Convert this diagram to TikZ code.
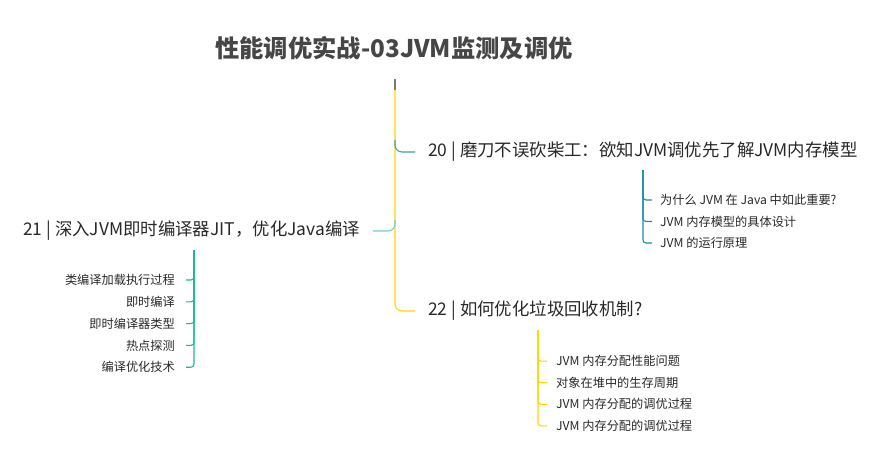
\documentclass[tikz,border=0pt]{standalone}
\usepackage{fontspec}
\setmainfont{Noto Sans CJK SC}
\definecolor{rootgray}{RGB}{120,120,120}
\definecolor{rootyellow}{RGB}{255,214,0}
\definecolor{tealA}{RGB}{60,160,180}
\definecolor{tealB}{RGB}{30,140,160}
\definecolor{aquaA}{RGB}{105,210,205}
\definecolor{aquaB}{RGB}{25,185,155}
\definecolor{titlegray}{RGB}{70,70,70}
\definecolor{textgray}{RGB}{40,40,40}
\begin{document}
\begin{tikzpicture}[x=1pt, y=-1pt,
    every node/.style={inner sep=0pt, text=textgray},
    branch/.style={font=\fontsize{17.4}{20}\selectfont},
    leaf/.style={font=\fontsize{12.2}{14}\selectfont},
    link/.style={line width=1.1pt, rounded corners=7pt},
    twig/.style={line width=1.1pt, rounded corners=3pt}]
\useasboundingbox (0,0) rectangle (887,452);

% Nodes
\node[font=\fontsize{24.3}{28}\selectfont\bfseries, text=titlegray] (title) at (394,48) {性能调优实战-03JVM监测及调优};
\node[branch, anchor=west] (b20) at (428,152) {20 | 磨刀不误砍柴工：欲知JVM调优先了解JVM内存模型};
\node[branch, anchor=east] (b21) at (360,231) {21 | 深入JVM即时编译器JIT，优化Java编译};
\node[branch, anchor=west] (b22) at (428,311) {22 | 如何优化垃圾回收机制?};

\foreach \t [count=\i] in {为什么 JVM 在 Java 中如此重要?, JVM 内存模型的具体设计, JVM 的运行原理}
  \node[leaf, anchor=west] (a\i) at (660,{178.5+21.5*\i}) {\t};
\foreach \t [count=\i] in {类编译加载执行过程, 即时编译, 即时编译器类型, 热点探测, 编译优化技术}
  \node[leaf, anchor=east] (c\i) at (175,{258.2+21.8*\i}) {\t};
\foreach \t [count=\i] in {JVM 内存分配性能问题, 对象在堆中的生存周期, JVM 内存分配的调优过程, JVM 内存分配的调优过程}
  \node[leaf, anchor=west] (d\i) at (556,{339.5+21.6*\i}) {\t};

% Trunk
\coordinate (r0) at (395,79);
\coordinate (r1) at (395,90);
\coordinate (j20) at (395,140);
\coordinate (j21) at (395,220);
\draw[rootgray, line width=1.1pt] (r0) -- (r1);
\draw[rootyellow, link] (r1) |- ([xshift=-13pt]b22.west);
\draw[tealA, link] (j20) |- ([xshift=-13pt]b20.west);
\draw[aquaA, link] (j21) |- ([xshift=13pt]b21.east);

% Sub topics
\coordinate (s20) at (643,170);
\coordinate (s21) at (194,250);
\coordinate (s22) at (538,330);
\foreach \i in {1,2,3}
  \draw[tealB, twig] (s20) |- ([xshift=-8pt]a\i.west);
\foreach \i in {1,...,5}
  \draw[aquaB, twig] (s21) |- ([xshift=11pt]c\i.east);
\foreach \i in {1,...,4}
  \draw[rootyellow, twig] (s22) |- ([xshift=-9pt]d\i.west);
\end{tikzpicture}
\end{document}
